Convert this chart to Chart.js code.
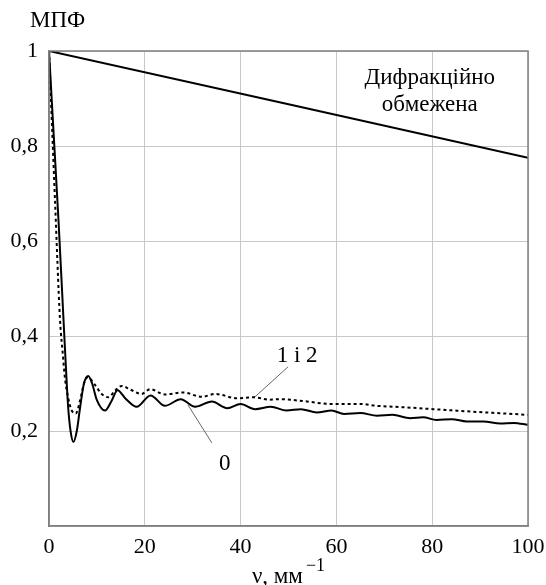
<!DOCTYPE html>
<html>
<head>
<meta charset="utf-8">
<script src="https://cdn.jsdelivr.net/npm/chart.js@4"></script>
<style>
  body { margin: 0; background: #fff; }
</style>
</head>
<body>
<canvas id="myChart" width="546" height="585"></canvas>
<script>
// data
const diffrX = [0, 50, 100];
const diffrY = [1, 0.888, 0.775];

const curve0X = [0, 1, 2, 3, 3.5, 4, 4.5, 5.1, 5.8, 6.5, 7.3, 8.2, 9, 10, 11.7, 13, 14.3, 16, 18.3, 21.2, 24.2, 27.5, 30.5, 34, 37.2, 40, 43, 46.3, 49.6, 52.6, 55.9, 59, 61.6, 65, 68.5, 71.7, 75.4, 78.1, 80.9, 84.1, 87.2, 90.7, 94.2, 97, 100];
const curve0Y = [1, 0.82, 0.64, 0.44, 0.34, 0.25, 0.2, 0.177, 0.2, 0.25, 0.3, 0.316, 0.3, 0.265, 0.243, 0.262, 0.286, 0.268, 0.251, 0.275, 0.253, 0.267, 0.251, 0.262, 0.248, 0.257, 0.246, 0.251, 0.243, 0.246, 0.239, 0.243, 0.236, 0.238, 0.232, 0.234, 0.227, 0.229, 0.223, 0.225, 0.22, 0.22, 0.216, 0.217, 0.213];

const curve12X = [0, 0.6, 1.25, 2.3, 2.9, 3.3, 4, 4.8, 5.6, 6.5, 7.3, 8.1, 9.6, 11, 12.4, 13.8, 15.2, 17, 19.3, 21.1, 24.2, 28, 31.9, 34.7, 39.2, 42.7, 46.1, 48.2, 53.1, 58.7, 64.9, 68.4, 74, 80.2, 87.9, 94.8, 100];
const curve12Y = [1, 0.85, 0.686, 0.434, 0.36, 0.314, 0.27, 0.242, 0.237, 0.265, 0.3, 0.313, 0.297, 0.278, 0.271, 0.285, 0.295, 0.287, 0.278, 0.288, 0.277, 0.281, 0.272, 0.278, 0.269, 0.271, 0.266, 0.267, 0.263, 0.257, 0.257, 0.253, 0.25, 0.246, 0.241, 0.237, 0.234];

const xTicks = [0, 20, 40, 60, 80, 100];
const yTicks = [0.2, 0.4, 0.6, 0.8, 1];

function pts(xs, ys) {
  return xs.map((x, i) => ({ x: x, y: ys[i] }));
}

const serif = "'Liberation Serif', 'Times New Roman', serif";
Chart.defaults.font.family = serif;
Chart.defaults.color = "#000";

// labels, leader lines, frame
const extras = {
  id: "extras",
  afterDraw(chart) {
    const c = chart.ctx;
    const xs = chart.scales.x;
    const ys = chart.scales.y;
    const a = chart.chartArea;
    const px = (v) => xs.getPixelForValue(v);
    const py = (v) => ys.getPixelForValue(v);
    c.save();
    // frame
    c.strokeStyle = "#808080";
    c.lineWidth = 1.5;
    c.strokeRect(a.left, a.top, a.right - a.left, a.bottom - a.top);

    // leader lines
    c.strokeStyle = "#666";
    c.lineWidth = 1;
    c.beginPath();
    c.moveTo(px(49.9), py(0.335));
    c.lineTo(px(43), py(0.272));
    c.moveTo(px(29), py(0.255));
    c.lineTo(px(34), py(0.175));
    c.stroke();

    c.fillStyle = "#000";
    c.font = "23px " + serif;
    c.textAlign = "center";
    c.textBaseline = "alphabetic";
    c.fillText("1 і 2", px(51.8), py(0.345));
    c.fillText("0", px(36.7), py(0.118));
    c.fillText("Дифракційно", px(79.5), py(0.93));
    c.fillText("обмежена", px(79.5), py(0.874));

    // y axis title
    c.textAlign = "left";
    c.fillText("МПФ", 30, 27);

    // x axis title with superscript
    const main = "ν, мм";
    const sup = "−1";
    c.font = "23px " + serif;
    const w1 = c.measureText(main).width;
    c.font = "18px " + serif;
    const w2 = c.measureText(sup).width;
    const x0 = (a.left + a.right) / 2 - (w1 + w2 + 3) / 2;
    c.font = "23px " + serif;
    c.fillText(main, x0, 583);
    c.font = "18px " + serif;
    c.fillText(sup, x0 + w1 + 3, 571);
    c.restore();
  },
};

const data = {
  datasets: [
    {
      label: "Дифракційно обмежена",
      data: pts(diffrX, diffrY),
      borderColor: "#000",
      borderWidth: 2,
      pointRadius: 0,
      showLine: true,
    },
    {
      label: "1 і 2",
      data: pts(curve12X, curve12Y),
      borderColor: "#000",
      borderWidth: 2,
      borderDash: [3, 3],
      pointRadius: 0,
      showLine: true,
      cubicInterpolationMode: "monotone",
    },
    {
      label: "0",
      data: pts(curve0X, curve0Y),
      borderColor: "#000",
      borderWidth: 2,
      pointRadius: 0,
      showLine: true,
      cubicInterpolationMode: "monotone",
    },
  ],
};

const config = {
  type: "scatter",
  data: data,
  options: {
    responsive: false,
    animation: false,
    layout: { padding: { top: 51, right: 18, left: 0, bottom: 0 } },
    plugins: { legend: { display: false }, tooltip: { enabled: false } },
    scales: {
      x: {
        type: "linear",
        min: 0,
        max: 100,
        afterFit: (s) => { s.height = 59; s.paddingLeft = 0; s.paddingRight = 0; },
        afterBuildTicks: (s) => { s.ticks = xTicks.map((v) => ({ value: v })); },
        ticks: { font: { size: 22 }, padding: 8, maxRotation: 0 },
        grid: { color: "#c8c8c8", drawTicks: false },
        border: { color: "#808080", width: 1.5 },
      },
      y: {
        min: 0,
        max: 1,
        afterFit: (s) => { s.width = 49; s.paddingTop = 0; s.paddingBottom = 0; },
        afterBuildTicks: (s) => { s.ticks = yTicks.map((v) => ({ value: v })); },
        ticks: {
          font: { size: 22 },
          padding: 11,
          callback: (v) => (v === 1 ? "1" : v.toFixed(1).replace(".", ",")),
        },
        grid: { color: "#c8c8c8", drawTicks: false },
        border: { color: "#808080", width: 1.5 },
      },
    },
  },
  plugins: [extras],
};

const ctx = document.getElementById("myChart");
const myChart = new Chart(ctx, config);
</script>
</body>
</html>
